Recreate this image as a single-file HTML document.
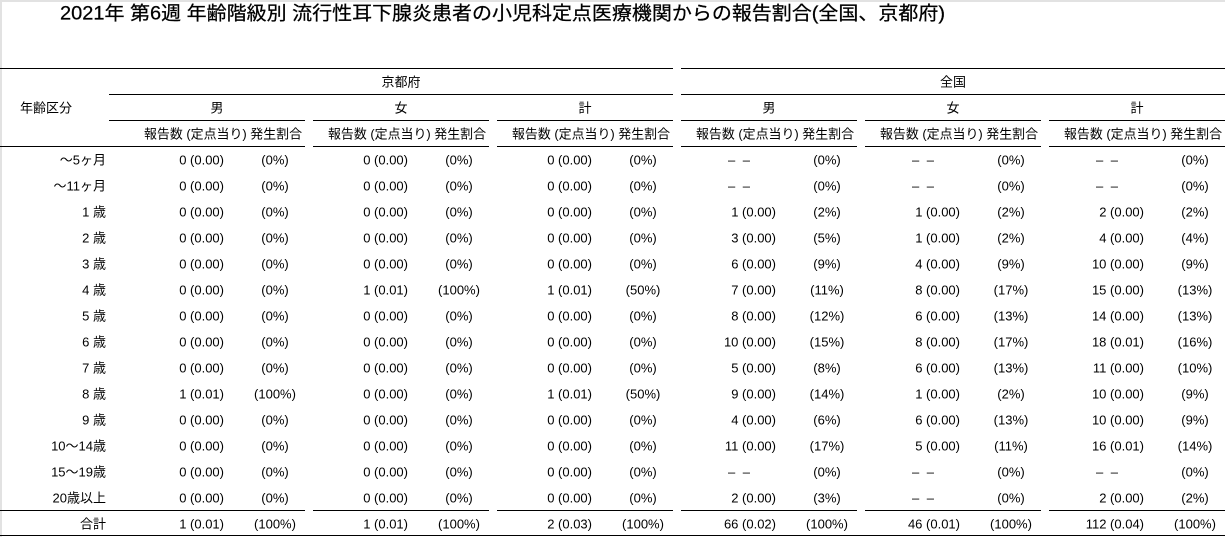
<!DOCTYPE html>
<html><head><meta charset="utf-8">
<style>
html,body{margin:0;padding:0;background:#fff;}
svg{display:block;}
text{font-family:"Liberation Sans","Noto Sans CJK JP",sans-serif;fill:#000;dominant-baseline:central;}
.d{font-size:13px;}
.c text{text-anchor:end;}
.p text{text-anchor:middle;}
.m text{text-anchor:middle;}
.s text{text-anchor:start;}
</style></head>
<body>
<svg width="1225" height="537" viewBox="0 0 1225 537" xmlns="http://www.w3.org/2000/svg">
<rect x="0" y="0" width="1225" height="537" fill="#fff"/>
<rect x="0" y="0" width="1225" height="2" fill="#e2e2e2"/>
<rect x="0" y="0" width="2" height="537" fill="#e2e2e2"/>

<text x="60" y="14" font-size="19" textLength="885" lengthAdjust="spacingAndGlyphs" stroke="#000" stroke-width="0.25">2021年 第6週 年齢階級別 流行性耳下腺炎患者の小児科定点医療機関からの報告割合(全国、京都府)</text>

<!-- lines -->
<g fill="#000">
<rect x="0" y="68" width="673" height="1"/><rect x="681" y="68" width="544" height="1"/>
<rect x="109" y="94" width="564" height="1"/><rect x="681" y="94" width="544" height="1"/>
<rect x="109" y="120" width="196" height="1"/><rect x="313" y="120" width="176" height="1"/><rect x="497" y="120" width="176" height="1"/><rect x="681" y="120" width="176" height="1"/><rect x="865" y="120" width="176" height="1"/><rect x="1049" y="120" width="176" height="1"/>
<rect x="0" y="146" width="305" height="1"/><rect x="313" y="146" width="176" height="1"/><rect x="497" y="146" width="176" height="1"/><rect x="681" y="146" width="176" height="1"/><rect x="865" y="146" width="176" height="1"/><rect x="1049" y="146" width="176" height="1"/>
<rect x="0" y="510" width="305" height="1"/><rect x="313" y="510" width="176" height="1"/><rect x="497" y="510" width="176" height="1"/><rect x="681" y="510" width="176" height="1"/><rect x="865" y="510" width="176" height="1"/><rect x="1049" y="510" width="176" height="1"/>
<rect x="0" y="535" width="1225" height="1"/>
</g>

<!-- headers -->
<g class="d m">
<text x="46" y="108">年齢区分</text>
<text x="401" y="82">京都府</text>
<text x="953" y="82">全国</text>
<text x="217" y="108">男</text>
<text x="401" y="108">女</text>
<text x="585" y="108">計</text>
<text x="769" y="108">男</text>
<text x="953" y="108">女</text>
<text x="1137" y="108">計</text>
</g>
<g class="d s">
<text x="144" y="134" textLength="158" lengthAdjust="spacingAndGlyphs">報告数 (定点当り) 発生割合</text>
<text x="328" y="134" textLength="158" lengthAdjust="spacingAndGlyphs">報告数 (定点当り) 発生割合</text>
<text x="512" y="134" textLength="158" lengthAdjust="spacingAndGlyphs">報告数 (定点当り) 発生割合</text>
<text x="696" y="134" textLength="158" lengthAdjust="spacingAndGlyphs">報告数 (定点当り) 発生割合</text>
<text x="880" y="134" textLength="158" lengthAdjust="spacingAndGlyphs">報告数 (定点当り) 発生割合</text>
<text x="1064" y="134" textLength="158" lengthAdjust="spacingAndGlyphs">報告数 (定点当り) 発生割合</text>
</g>

<!-- age labels -->
<g class="d c">
<text x="106" y="160">〜5ヶ月</text>
<text x="106" y="186">〜11ヶ月</text>
<text x="106" y="212">1 歳</text>
<text x="106" y="238">2 歳</text>
<text x="106" y="264">3 歳</text>
<text x="106" y="290">4 歳</text>
<text x="106" y="316">5 歳</text>
<text x="106" y="342">6 歳</text>
<text x="106" y="368">7 歳</text>
<text x="106" y="394">8 歳</text>
<text x="106" y="420">9 歳</text>
<text x="106" y="446">10〜14歳</text>
<text x="106" y="472">15〜19歳</text>
<text x="106" y="498">20歳以上</text>
<text x="106" y="524">合計</text>
</g>

<!-- 京都府 男 -->
<g class="d c">
<text x="224" y="160">0 (0.00)</text><text x="224" y="186">0 (0.00)</text><text x="224" y="212">0 (0.00)</text><text x="224" y="238">0 (0.00)</text><text x="224" y="264">0 (0.00)</text><text x="224" y="290">0 (0.00)</text><text x="224" y="316">0 (0.00)</text><text x="224" y="342">0 (0.00)</text><text x="224" y="368">0 (0.00)</text><text x="224" y="394">1 (0.01)</text><text x="224" y="420">0 (0.00)</text><text x="224" y="446">0 (0.00)</text><text x="224" y="472">0 (0.00)</text><text x="224" y="498">0 (0.00)</text><text x="224" y="524">1 (0.01)</text>
</g>
<g class="d p">
<text x="275" y="160">(0%)</text><text x="275" y="186">(0%)</text><text x="275" y="212">(0%)</text><text x="275" y="238">(0%)</text><text x="275" y="264">(0%)</text><text x="275" y="290">(0%)</text><text x="275" y="316">(0%)</text><text x="275" y="342">(0%)</text><text x="275" y="368">(0%)</text><text x="275" y="394">(100%)</text><text x="275" y="420">(0%)</text><text x="275" y="446">(0%)</text><text x="275" y="472">(0%)</text><text x="275" y="498">(0%)</text><text x="275" y="524">(100%)</text>
</g>

<!-- 京都府 女 -->
<g class="d c">
<text x="408" y="160">0 (0.00)</text><text x="408" y="186">0 (0.00)</text><text x="408" y="212">0 (0.00)</text><text x="408" y="238">0 (0.00)</text><text x="408" y="264">0 (0.00)</text><text x="408" y="290">1 (0.01)</text><text x="408" y="316">0 (0.00)</text><text x="408" y="342">0 (0.00)</text><text x="408" y="368">0 (0.00)</text><text x="408" y="394">0 (0.00)</text><text x="408" y="420">0 (0.00)</text><text x="408" y="446">0 (0.00)</text><text x="408" y="472">0 (0.00)</text><text x="408" y="498">0 (0.00)</text><text x="408" y="524">1 (0.01)</text>
</g>
<g class="d p">
<text x="459" y="160">(0%)</text><text x="459" y="186">(0%)</text><text x="459" y="212">(0%)</text><text x="459" y="238">(0%)</text><text x="459" y="264">(0%)</text><text x="459" y="290">(100%)</text><text x="459" y="316">(0%)</text><text x="459" y="342">(0%)</text><text x="459" y="368">(0%)</text><text x="459" y="394">(0%)</text><text x="459" y="420">(0%)</text><text x="459" y="446">(0%)</text><text x="459" y="472">(0%)</text><text x="459" y="498">(0%)</text><text x="459" y="524">(100%)</text>
</g>

<!-- 京都府 計 -->
<g class="d c">
<text x="592" y="160">0 (0.00)</text><text x="592" y="186">0 (0.00)</text><text x="592" y="212">0 (0.00)</text><text x="592" y="238">0 (0.00)</text><text x="592" y="264">0 (0.00)</text><text x="592" y="290">1 (0.01)</text><text x="592" y="316">0 (0.00)</text><text x="592" y="342">0 (0.00)</text><text x="592" y="368">0 (0.00)</text><text x="592" y="394">1 (0.01)</text><text x="592" y="420">0 (0.00)</text><text x="592" y="446">0 (0.00)</text><text x="592" y="472">0 (0.00)</text><text x="592" y="498">0 (0.00)</text><text x="592" y="524">2 (0.03)</text>
</g>
<g class="d p">
<text x="643" y="160">(0%)</text><text x="643" y="186">(0%)</text><text x="643" y="212">(0%)</text><text x="643" y="238">(0%)</text><text x="643" y="264">(0%)</text><text x="643" y="290">(50%)</text><text x="643" y="316">(0%)</text><text x="643" y="342">(0%)</text><text x="643" y="368">(0%)</text><text x="643" y="394">(50%)</text><text x="643" y="420">(0%)</text><text x="643" y="446">(0%)</text><text x="643" y="472">(0%)</text><text x="643" y="498">(0%)</text><text x="643" y="524">(100%)</text>
</g>

<!-- 全国 男 -->
<g class="d s">
<text x="728" y="160" textLength="22">– –</text><text x="728" y="186" textLength="22">– –</text><text x="728" y="472" textLength="22">– –</text>
</g>
<g class="d c">
<text x="776" y="212">1 (0.00)</text><text x="776" y="238">3 (0.00)</text><text x="776" y="264">6 (0.00)</text><text x="776" y="290">7 (0.00)</text><text x="776" y="316">8 (0.00)</text><text x="776" y="342">10 (0.00)</text><text x="776" y="368">5 (0.00)</text><text x="776" y="394">9 (0.00)</text><text x="776" y="420">4 (0.00)</text><text x="776" y="446">11 (0.00)</text><text x="776" y="498">2 (0.00)</text><text x="776" y="524">66 (0.02)</text>
</g>
<g class="d p">
<text x="827" y="160">(0%)</text><text x="827" y="186">(0%)</text><text x="827" y="212">(2%)</text><text x="827" y="238">(5%)</text><text x="827" y="264">(9%)</text><text x="827" y="290">(11%)</text><text x="827" y="316">(12%)</text><text x="827" y="342">(15%)</text><text x="827" y="368">(8%)</text><text x="827" y="394">(14%)</text><text x="827" y="420">(6%)</text><text x="827" y="446">(17%)</text><text x="827" y="472">(0%)</text><text x="827" y="498">(3%)</text><text x="827" y="524">(100%)</text>
</g>

<!-- 全国 女 -->
<g class="d s">
<text x="912" y="160" textLength="22">– –</text><text x="912" y="186" textLength="22">– –</text><text x="912" y="472" textLength="22">– –</text><text x="912" y="498" textLength="22">– –</text>
</g>
<g class="d c">
<text x="960" y="212">1 (0.00)</text><text x="960" y="238">1 (0.00)</text><text x="960" y="264">4 (0.00)</text><text x="960" y="290">8 (0.00)</text><text x="960" y="316">6 (0.00)</text><text x="960" y="342">8 (0.00)</text><text x="960" y="368">6 (0.00)</text><text x="960" y="394">1 (0.00)</text><text x="960" y="420">6 (0.00)</text><text x="960" y="446">5 (0.00)</text><text x="960" y="524">46 (0.01)</text>
</g>
<g class="d p">
<text x="1011" y="160">(0%)</text><text x="1011" y="186">(0%)</text><text x="1011" y="212">(2%)</text><text x="1011" y="238">(2%)</text><text x="1011" y="264">(9%)</text><text x="1011" y="290">(17%)</text><text x="1011" y="316">(13%)</text><text x="1011" y="342">(17%)</text><text x="1011" y="368">(13%)</text><text x="1011" y="394">(2%)</text><text x="1011" y="420">(13%)</text><text x="1011" y="446">(11%)</text><text x="1011" y="472">(0%)</text><text x="1011" y="498">(0%)</text><text x="1011" y="524">(100%)</text>
</g>

<!-- 全国 計 -->
<g class="d s">
<text x="1096" y="160" textLength="22">– –</text><text x="1096" y="186" textLength="22">– –</text><text x="1096" y="472" textLength="22">– –</text>
</g>
<g class="d c">
<text x="1144" y="212">2 (0.00)</text><text x="1144" y="238">4 (0.00)</text><text x="1144" y="264">10 (0.00)</text><text x="1144" y="290">15 (0.00)</text><text x="1144" y="316">14 (0.00)</text><text x="1144" y="342">18 (0.01)</text><text x="1144" y="368">11 (0.00)</text><text x="1144" y="394">10 (0.00)</text><text x="1144" y="420">10 (0.00)</text><text x="1144" y="446">16 (0.01)</text><text x="1144" y="498">2 (0.00)</text><text x="1144" y="524">112 (0.04)</text>
</g>
<g class="d p">
<text x="1195" y="160">(0%)</text><text x="1195" y="186">(0%)</text><text x="1195" y="212">(2%)</text><text x="1195" y="238">(4%)</text><text x="1195" y="264">(9%)</text><text x="1195" y="290">(13%)</text><text x="1195" y="316">(13%)</text><text x="1195" y="342">(16%)</text><text x="1195" y="368">(10%)</text><text x="1195" y="394">(9%)</text><text x="1195" y="420">(9%)</text><text x="1195" y="446">(14%)</text><text x="1195" y="472">(0%)</text><text x="1195" y="498">(2%)</text><text x="1195" y="524">(100%)</text>
</g>
</svg>
</body></html>
